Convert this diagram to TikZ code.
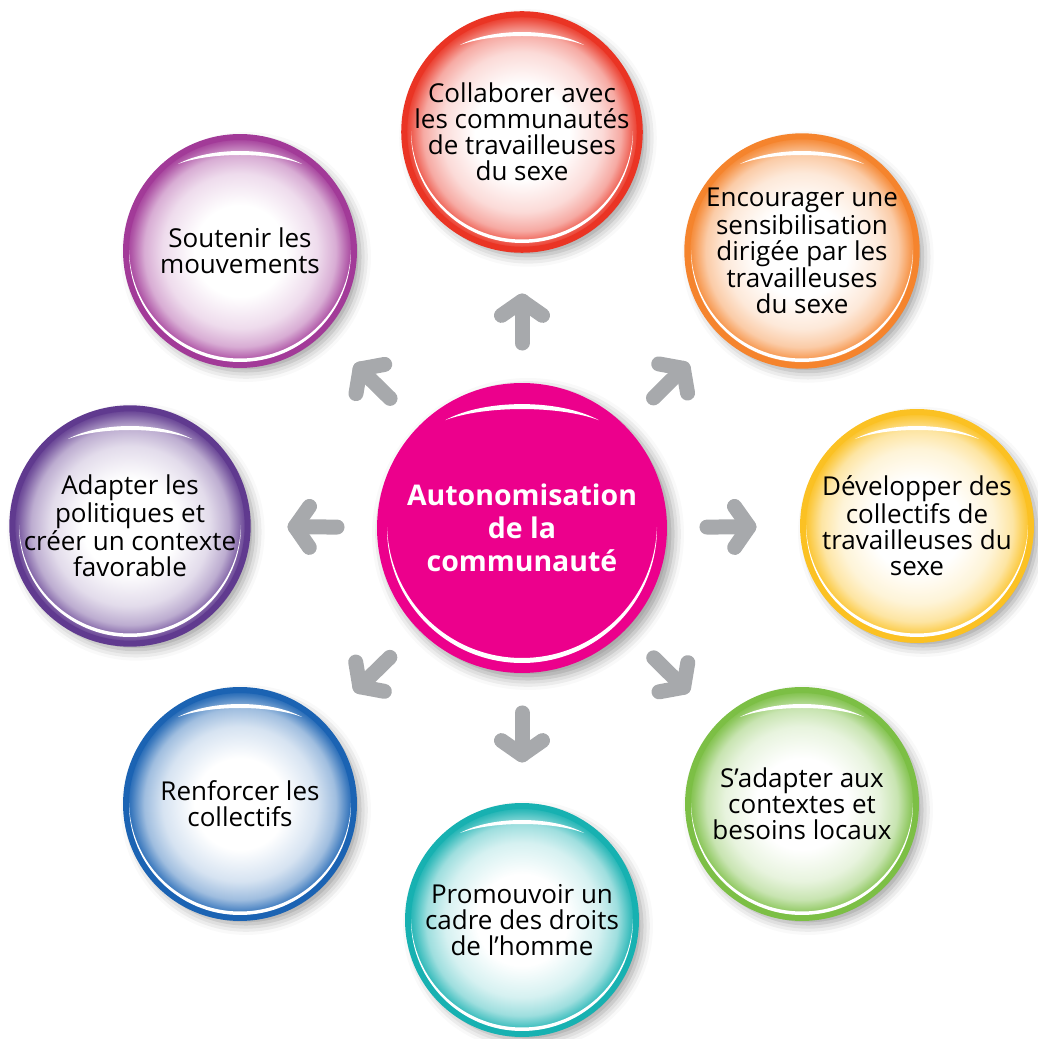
\documentclass[tikz,border=0pt]{standalone}
\usepackage{fontspec}
\setmainfont{Open Sans}
\usetikzlibrary{calc,shadows.blur}
\definecolor{cred}{RGB}{234,52,36}
\definecolor{corange}{RGB}{245,132,45}
\definecolor{cyellow}{RGB}{251,193,35}
\definecolor{cgreen}{RGB}{124,191,69}
\definecolor{cteal}{RGB}{23,177,177}
\definecolor{cblue}{RGB}{27,99,179}
\definecolor{cpurple}{RGB}{96,58,143}
\definecolor{cviolet}{RGB}{162,58,152}
\definecolor{cmag}{RGB}{236,0,140}
\definecolor{cgray}{RGB}{167,169,172}
\colorlet{ballc}{cred}
\pgfdeclareradialshading[ballc]{glossball}{\pgfpoint{0bp}{0bp}}{color(0bp)=(white); color(10bp)=(white); color(17bp)=(ballc!18!white); color(21bp)=(ballc!42!white); color(23.8bp)=(ballc!85!white); color(25bp)=(ballc); color(50bp)=(ballc)}
\tikzset{
  ballshadow/.style={blur shadow={shadow xshift=0.12cm, shadow yshift=-0.12cm, shadow blur radius=0.22cm, shadow opacity=40}},
  ballnode/.style={circle, inner sep=0pt, minimum size=4.56cm, shade, shading=glossball, draw=ballc, line width=0.12cm, align=center, text=black, font=\fontsize{14.8}{14.74}\selectfont, ballshadow},
  centernode/.style={circle, inner sep=0pt, minimum size=5.8cm, fill=cmag, align=center, text=white, font=\fontsize{16.2}{18.7}\selectfont\bfseries, ballshadow},
  garrow/.style={draw=cgray, line width=0.3cm, line cap=round, line join=round},
  hilite/.style={fill=white}
}
\newcommand\glossdeco[5]{% x, y, radius, rim inset, shift
  \begin{scope}
    \clip (#1-#3,#2) rectangle (#1+#3,#2-#3-2);
    \fill[hilite, even odd rule] (#1,#2) circle ({#3-#4}) (#1,#2+#5) circle ({#3-#4});
  \end{scope}
  \begin{scope}[shift={(#1,#2)}, scale=#3/117]
    \fill[hilite] (-62,87) .. controls (-30,104.3) and (30,104.3) .. (62,87) .. controls (30,99) and (-30,99) .. cycle;
  \end{scope}
}
\newcommand\gball[5]{% name, x, y, colour, text
  \colorlet{ballc}{#4}
  \node[ballnode] (#1) at (#2,#3) {#5};
  \glossdeco{#2}{#3}{117}{6}{3.5}
}
\begin{document}
\begin{tikzpicture}[x=0.02cm, y=0.02cm]
\useasboundingbox (0,0) rectangle (1038,1039);
\node[centernode] (ctr) at (522,511) {Autonomisation\\de la\\communauté};
\glossdeco{522}{511}{145}{10}{5}
\gball{b1}{522}{907}{cred}{Collaborer avec\\les communautés\\de travailleuses\\du sexe}
\gball{b2}{802}{788}{corange}{Encourager une\\sensibilisation\\dirigée par les\\travailleuses\\du sexe}
\gball{b3}{917}{513}{cyellow}{Développer des\\collectifs de\\travailleuses du\\sexe}
\gball{b4}{802}{235}{cgreen}{S’adapter aux\\contextes et\\besoins locaux}
\gball{b5}{522}{119}{cteal}{Promouvoir un\\cadre des droits\\de l’homme}
\gball{b6}{240}{235}{cblue}{Renforcer les\\collectifs}
\gball{b7}{130}{513}{cpurple}{Adapter les\\politiques et\\créer un contexte\\favorable}
\gball{b8}{240}{788}{cviolet}{Soutenir les\\mouvements}
\foreach \b in {b1,b2,b3,b4,b5,b6,b7,b8} {
  \coordinate (t-\b) at ($(ctr.center)!3.7cm!(\b.center)$);
  \coordinate (h-\b) at ($(ctr.center)!4.54cm!(\b.center)$);
  \draw[garrow] (t-\b) -- (h-\b);
  \draw[garrow] ($(h-\b)!0.5cm!55:(t-\b)$) -- (h-\b) -- ($(h-\b)!0.5cm!-55:(t-\b)$);
}
\end{tikzpicture}
\end{document}
